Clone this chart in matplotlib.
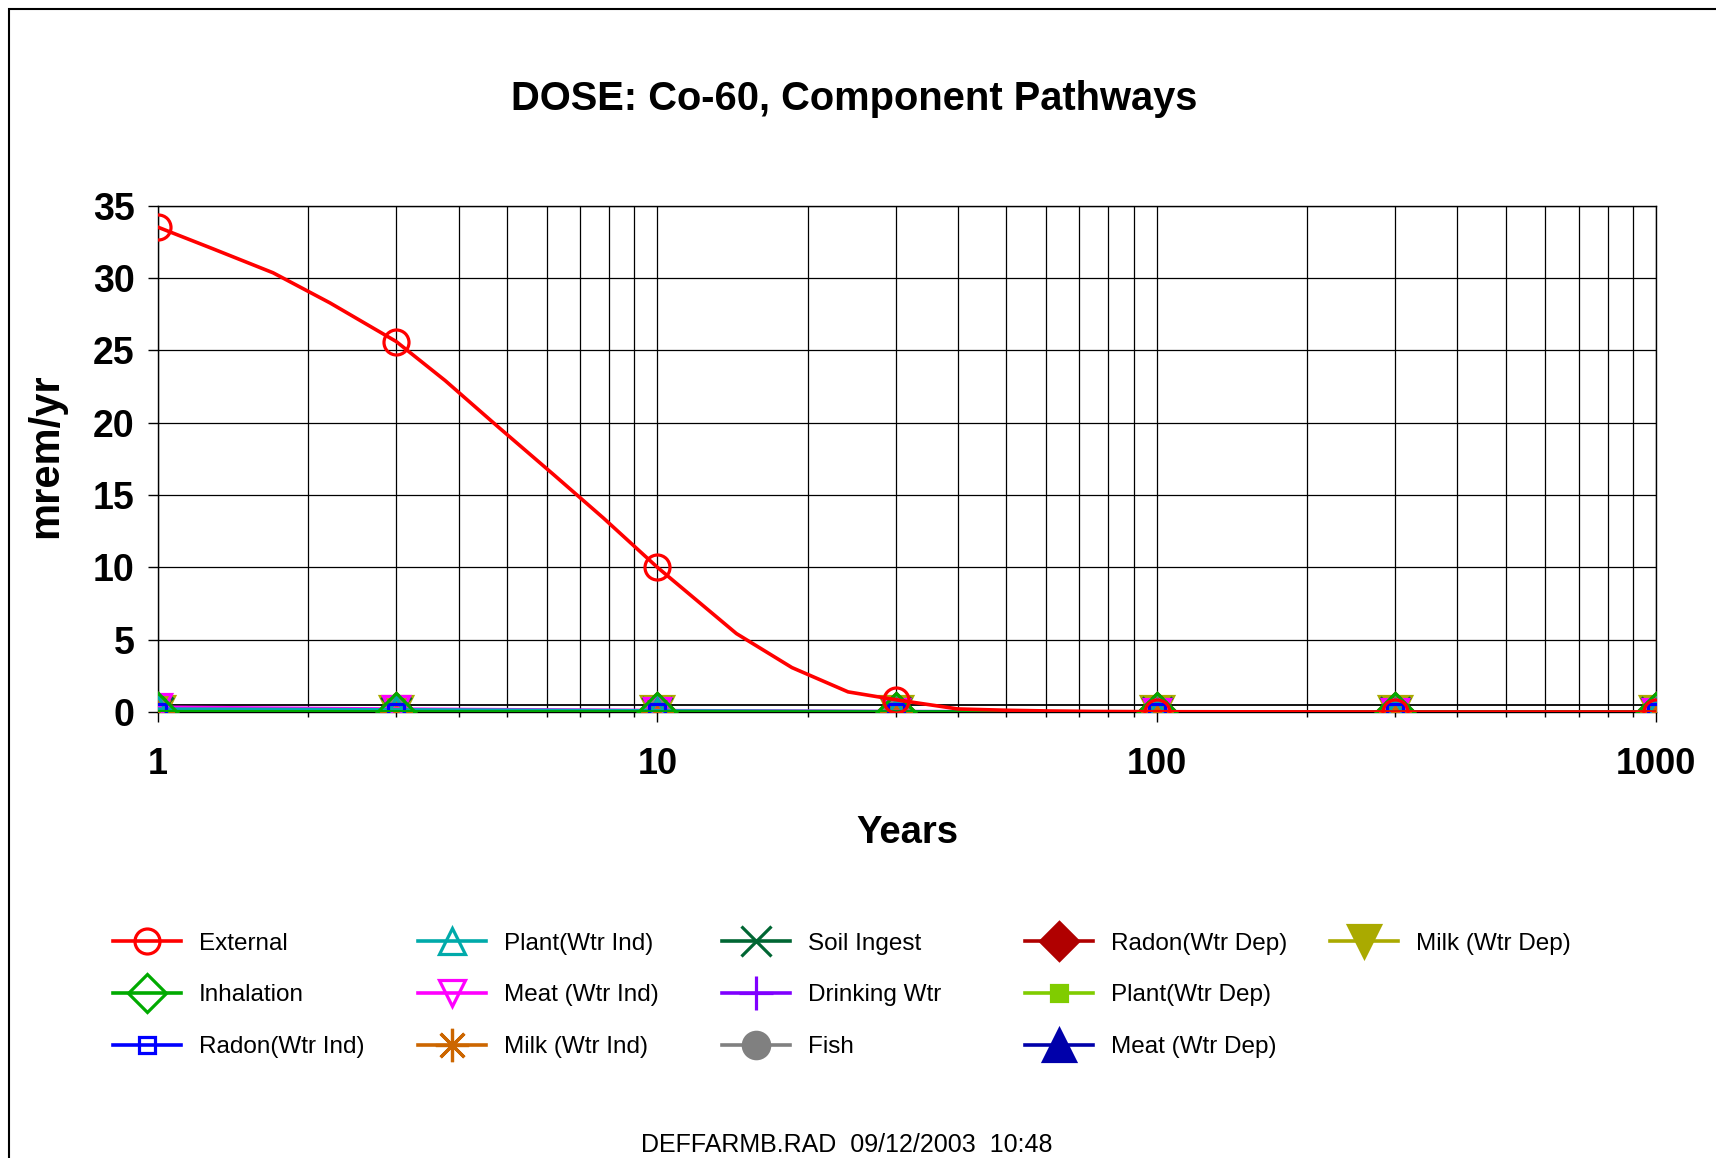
import matplotlib
matplotlib.use("Agg")
import matplotlib.pyplot as plt
from matplotlib.patches import Rectangle
from matplotlib.ticker import FixedLocator, NullFormatter

plt.rcParams["font.family"] = ["Liberation Sans", "DejaVu Sans"]

# ---- data -------------------------------------------------------------
years = [1, 3, 10, 30, 100, 300, 1000]

# External pathway, with the intermediate graphics points between report times
external_t = [1, 1.29, 1.70, 2.21, 3, 3.76, 4.8, 6.2, 7.8, 10, 14.4, 18.6, 24.1,
              30, 40, 50, 61, 75, 100, 300, 1000]
external_dose = [33.5, 32.0, 30.35, 28.27, 25.6, 22.9, 19.7, 16.4, 13.4, 10.0,
                 5.42, 3.07, 1.39, 0.85, 0.21, 0.12, 0.07, 0.04, 0.02, 0.0, 0.0]

inhalation = [0.02, 0.01, 0.005, 0.0, 0.0, 0.0, 0.0]
radon_wtr_ind = [0.0, 0.0, 0.0, 0.0, 0.0, 0.0, 0.0]
plant_wtr_ind = [0.20, 0.15, 0.08, 0.02, 0.0, 0.0, 0.0]
meat_wtr_ind = [0.33, 0.20, 0.10, 0.03, 0.0, 0.0, 0.0]
milk_wtr_ind = [0.10, 0.06, 0.03, 0.01, 0.0, 0.0, 0.0]
soil_ingest = [0.03, 0.02, 0.01, 0.0, 0.0, 0.0, 0.0]
drinking_wtr = [0.0, 0.0, 0.0, 0.0, 0.0, 0.0, 0.0]
fish = [0.0, 0.0, 0.0, 0.0, 0.0, 0.0, 0.0]
radon_wtr_dep = [0.0, 0.0, 0.0, 0.0, 0.0, 0.0, 0.0]
plant_wtr_dep = [0.0, 0.0, 0.0, 0.0, 0.0, 0.0, 0.0]
meat_wtr_dep = [0.0, 0.0, 0.0, 0.0, 0.0, 0.0, 0.0]
milk_wtr_dep = [0.0, 0.0, 0.0, 0.0, 0.0, 0.0, 0.0]

x_tick_values = [1, 10, 100, 1000]
x_tick_labels = ["1", "10", "100", "1000"]
y_tick_values = [0, 5, 10, 15, 20, 25, 30, 35]
y_tick_labels = ["0", "5", "10", "15", "20", "25", "30", "35"]

# ---- styles -----------------------------------------------------------
# (label, values, color, marker, size, filled)
pathways = [
    ("Inhalation", inhalation, "#00AA00", "D", 19, False),
    ("Radon(Wtr Ind)", radon_wtr_ind, "#0000FF", "s", 12, False),
    ("Plant(Wtr Ind)", plant_wtr_ind, "#00AAAA", "^", 19, False),
    ("Meat (Wtr Ind)", meat_wtr_ind, "#FF00FF", "v", 19, False),
    ("Milk (Wtr Ind)", milk_wtr_ind, "#CC6600", (8, 2, 0), 24, False),
    ("Soil Ingest", soil_ingest, "#006633", "x", 22, False),
    ("Drinking Wtr", drinking_wtr, "#8000FF", "+", 24, False),
    ("Fish", fish, "#808080", "o", 19, True),
    ("Radon(Wtr Dep)", radon_wtr_dep, "#B00000", "D", 19, True),
    ("Plant(Wtr Dep)", plant_wtr_dep, "#80CC00", "s", 12, True),
    ("Meat (Wtr Dep)", meat_wtr_dep, "#0000AA", "^", 23, True),
    ("Milk (Wtr Dep)", milk_wtr_dep, "#AAAA00", "v", 23, True),
]

W, H = 1716, 1158
fig = plt.figure(figsize=(W / 100, H / 100), dpi=100)
ax = fig.add_axes([158 / W, 1 - 712 / H, (1656 - 158) / W, (712 - 205.5) / H])

handles = []
ext_marks = [external_t.index(y) for y in years]
h, = ax.plot(external_t, external_dose, color="#FF0000", lw=2.6, marker="o",
             markevery=ext_marks, ms=18, mfc="none", mew=2.3, zorder=30,
             label="External")
handles.append(h)
for i, (label, vals, color, marker, size, filled) in enumerate(pathways):
    h, = ax.plot(years, vals, color=color, lw=2.6, marker=marker, ms=size,
                 mfc=color if filled else "none", mec=color, mew=2.3,
                 zorder=29 - i, label=label)
    handles.append(h)

# thin reference line just above the floor of the plot
ax.axhline(0.45, color="black", lw=1.3, zorder=3)

ax.set_xscale("log")
ax.set_xlim(1, 1000)
ax.set_ylim(0, 35)
ax.xaxis.set_major_locator(FixedLocator(x_tick_values))
ax.set_xticklabels(x_tick_labels)
ax.xaxis.set_minor_locator(FixedLocator(
    [m * d for d in (1, 10, 100) for m in range(2, 10)]))
ax.xaxis.set_minor_formatter(NullFormatter())
ax.set_yticks(y_tick_values)
ax.set_yticklabels(y_tick_labels)

ax.grid(which="major", axis="both", color="black", lw=0.9, zorder=0)
ax.grid(which="minor", axis="x", color="black", lw=0.9, zorder=0)
ax.set_axisbelow(True)

ax.tick_params(axis="y", which="major", direction="out", length=7,
               width=1, labelsize=27, pad=10)
ax.tick_params(axis="x", which="major", direction="out", length=7,
               width=1, labelsize=26, pad=18)
ax.tick_params(axis="x", which="minor", direction="out", length=3.5, width=1)
for lab in ax.get_xticklabels() + ax.get_yticklabels():
    lab.set_fontweight("bold")
for sp in ax.spines.values():
    sp.set_color("black")
    sp.set_linewidth(1)

ax.set_xlabel("Years", fontsize=27.5, fontweight="bold")
ax.xaxis.set_label_coords(0.5, -0.204)
ax.set_ylabel("mrem/yr", fontsize=30, fontweight="bold")
ax.yaxis.set_label_coords(-0.061, 0.507)

fig.text(0.4975, 1 - 109.5 / H, "DOSE: Co-60, Component Pathways",
         ha="center", va="baseline", fontsize=28.7, fontweight="bold")
fig.text(846.5 / W, 1 - 1151.5 / H, "DEFFARMB.RAD  09/12/2003  10:48",
         ha="center", va="baseline", fontsize=18)

# legend laid out in fixed-width columns
col_x = [113, 418, 722, 1025, 1330]
for c, x0 in enumerate(col_x):
    group = handles[c * 3:(c + 1) * 3]
    fig.legend(handles=group, labels=[g.get_label() for g in group],
               loc="upper left", bbox_to_anchor=(x0 / W, 1 - 932.5 / H),
               frameon=False, fontsize=17.5, borderpad=0, borderaxespad=0,
               handlelength=2.8, handletextpad=0.74, labelspacing=1.23)

# frame around the whole chart area
fig.add_artist(Rectangle((9 / W, -0.01), 1.0, 1 - 9 / H + 0.01,
                         transform=fig.transFigure, fill=False,
                         edgecolor="black", lw=1.5))

fig.savefig("out.png", dpi=100)
